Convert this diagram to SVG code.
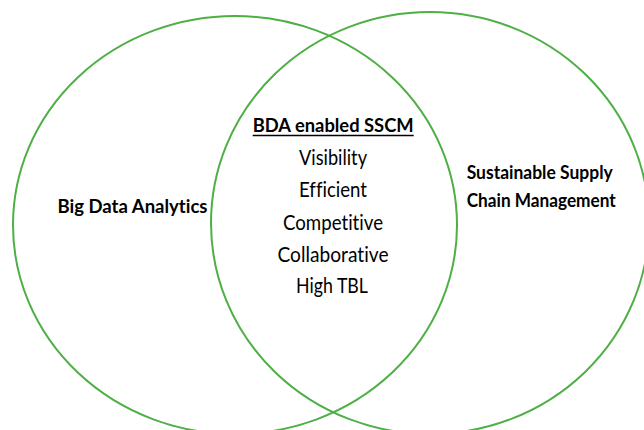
<svg xmlns="http://www.w3.org/2000/svg" width="644" height="430" viewBox="0 0 644 430">
<style>
.ring{fill:none;stroke:#4DAF45;stroke-width:2}
.b{font-family:Lato,"Open Sans","Liberation Sans",sans-serif;font-weight:bold;fill:#000;font-variant-ligatures:none}
.r{font-family:Lato,"Open Sans","Liberation Sans",sans-serif;font-size:22px;fill:#000;text-anchor:middle;font-variant-ligatures:none}
</style>
<rect width="644" height="430" fill="#fff"/>
<g id="bda">
<ellipse class="ring" cx="235" cy="225" rx="222" ry="209"/>
<text class="b" x="57.5" y="213.3" font-size="19" textLength="150" lengthAdjust="spacingAndGlyphs">Big Data Analytics</text>
</g>
<g id="sscm">
<ellipse class="ring" cx="430" cy="223" rx="219" ry="211"/>
<text class="b" x="466.7" y="179.3" font-size="18" textLength="146" lengthAdjust="spacingAndGlyphs">Sustainable Supply</text>
<text class="b" x="466.7" y="207.3" font-size="18" textLength="149" lengthAdjust="spacingAndGlyphs">Chain Management</text>
</g>
<g id="overlap">
<text class="b" x="252.7" y="131.7" font-size="19" textLength="161" lengthAdjust="spacingAndGlyphs">BDA enabled SSCM</text>
<line x1="252.7" y1="135.5" x2="413.7" y2="135.5" stroke="#000" stroke-width="1.6"/>
<text class="r" x="333" y="165" textLength="68" lengthAdjust="spacingAndGlyphs">Visibility</text>
<text class="r" x="333" y="197.3" textLength="68" lengthAdjust="spacingAndGlyphs">Efficient</text>
<text class="r" x="333" y="230" textLength="100" lengthAdjust="spacingAndGlyphs">Competitive</text>
<text class="r" x="333" y="261.7" textLength="111" lengthAdjust="spacingAndGlyphs">Collaborative</text>
<text class="r" x="332" y="292.7" textLength="72" lengthAdjust="spacingAndGlyphs">High TBL</text>
</g>
<g id="connectors"/>
</svg>
